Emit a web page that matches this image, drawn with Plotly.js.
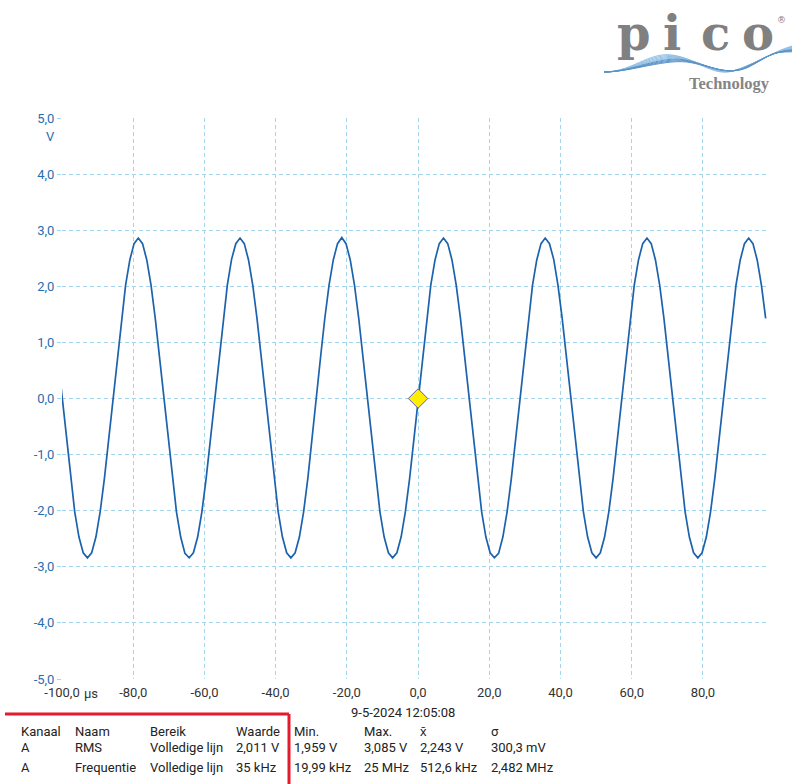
<!DOCTYPE html>
<html>
<head>
<meta charset="utf-8">
<script src="https://cdn.plot.ly/plotly-3.0.1.min.js"></script>
<style>html,body{margin:0;padding:0;background:#fff;}#chart{width:800px;height:784px;}</style>
</head>
<body>
<div id="chart"></div>
<script>
// ---- data ----
const timeStartUs = -102.38;     // first sample time, µs
const timeStepUs = 1.1905;       // sample spacing, µs
const voltsA = [
  1.43, 0.74, 0.00, -0.74, -1.43, -2.02, -2.47, -2.75, -2.84, -2.75, -2.47, -2.02, -1.43, -0.74, 0.00, 0.74, 1.43, 2.02, 2.47, 2.76, 2.86, 2.76, 2.47, 2.02,
  1.43, 0.74, 0.01, -0.74, -1.43, -2.02, -2.47, -2.76, -2.84, -2.75, -2.47, -2.02, -1.43, -0.73, 0.00, 0.74, 1.43, 2.02, 2.48, 2.76, 2.86, 2.76, 2.47, 2.02,
  1.43, 0.74, 0.00, -0.74, -1.43, -2.02, -2.47, -2.75, -2.84, -2.75, -2.47, -2.02, -1.42, -0.74, 0.00, 0.74, 1.43, 2.02, 2.47, 2.76, 2.87, 2.76, 2.47, 2.02,
  1.43, 0.73, 0.00, -0.74, -1.43, -2.02, -2.47, -2.75, -2.84, -2.75, -2.47, -2.02, -1.43, -0.74, 0.00, 0.74, 1.43, 2.02, 2.47, 2.76, 2.86, 2.76, 2.47, 2.02,
  1.43, 0.74, 0.00, -0.74, -1.43, -2.02, -2.47, -2.75, -2.84, -2.76, -2.47, -2.02, -1.43, -0.74, 0.00, 0.74, 1.43, 2.02, 2.47, 2.76, 2.86, 2.76, 2.48, 2.02,
  1.43, 0.74, 0.00, -0.74, -1.43, -2.02, -2.47, -2.75, -2.84, -2.75, -2.47, -2.02, -1.43, -0.74, 0.00, 0.74, 1.43, 2.02, 2.47, 2.76, 2.86, 2.76, 2.47, 2.02,
  1.43, 0.74, 0.00, -0.74, -1.43, -2.02, -2.47, -2.75, -2.84, -2.75, -2.47, -2.02, -1.43, -0.74, 0.00, 0.74, 1.43, 2.02, 2.47, 2.76, 2.86, 2.76, 2.47, 2.02,
  1.43
];
const triggerTime = [0];
const triggerLevel = [0];

const xTickVals = [-100, -80, -60, -40, -20, 0, 20, 40, 60, 80];
const xTickText = ["-100,0", "-80,0", "-60,0", "-40,0", "-20,0", "0,0", "20,0", "40,0", "60,0", "80,0"];
const yTickVals = [-5, -4, -3, -2, -1, 0, 1, 2, 3, 4, 5];
const yTickText = ["-5,0", "-4,0", "-3,0", "-2,0", "-1,0", "0,0", "1,0", "2,0", "3,0", "4,0", "5,0"];

const tableHeader = ["Kanaal", "Naam", "Bereik", "Waarde", "Min.", "Max.", "x\u0304", "σ"];
const rowRMS = ["A", "RMS", "Volledige lijn", "2,011 V", "1,959 V", "3,085 V", "2,243 V", "300,3 mV"];
const rowFreq = ["A", "Frequentie", "Volledige lijn", "35 kHz", "19,99 kHz", "25 MHz", "512,6 kHz", "2,482 MHz"];
const timestamp = "9-5-2024 12:05:08";

// ---- layout helpers (pixel placement) ----
const L = 62, R = 767, T = 118, B = 679;
const W = R - L, H = B - T;
function px(x) { return (x - L) / W; }
function py(y) { return (B - y) / H; }

const colX = [19, 73, 148, 234, 292, 362, 418, 489];
const rowY = [731, 747, 767];
const font = "Roboto, 'Liberation Sans', sans-serif";

const annotations = [];
function addText(text, x, y, opts) {
  annotations.push(Object.assign({
    text: text, xref: "paper", yref: "paper", x: 0, y: 0,
    xshift: x - L, yshift: B - y, xanchor: "left", yanchor: "middle",
    showarrow: false, font: {family: font, size: 13, color: "#222"}
  }, opts || {}));
}
[tableHeader, rowRMS, rowFreq].forEach(function (row, r) {
  row.forEach(function (t, c) { addText(t, colX[c], rowY[r]); });
});
addText(timestamp, 403, 712, {xanchor: "center"});
addText("µs", 82, 693, {font: {family: font, size: 13, color: "#333"}});
addText("V", 50, 136, {xanchor: "center", font: {family: font, size: 13, color: "#2b6cb0"}});

// logo
const serif = "DejaVu Serif";
[["p", 634], ["i", 672], ["c", 715], ["o", 758]].forEach(function (l) {
  addText(l[0], l[1], 33, {xanchor: "center", font: {family: serif, size: 48, color: "#808080", weight: "bold"}});
});
addText("®", 781, 20, {xanchor: "center", font: {family: serif, size: 9, color: "#7d7d7d"}});
addText("Technology", 729, 83, {xanchor: "center", font: {family: "Liberation Serif", size: 16.5, color: "#858585", weight: "bold"}});

const shapes = [];
// red bracket
shapes.push({type: "line", xref: "paper", yref: "paper", x0: px(5), x1: px(289), y0: py(714), y1: py(714), line: {color: "#e31b2c", width: 3}});
shapes.push({type: "line", xref: "paper", yref: "paper", x0: px(289), x1: px(289), y0: py(714), y1: py(786), line: {color: "#e31b2c", width: 3}});
// logo waves
for (let i = 0; i < 9; i++) {
  const o = i * 2.4;
  const p = "M " + px(604) + "," + py(72) +
    " C " + px(632) + "," + py(72) + " " + px(648 + o) + "," + py(52 + o * 0.3) + " " + px(672 + o) + "," + py(55 + o * 0.4) +
    " S " + px(712 + o) + "," + py(77) + " " + px(733 + o) + "," + py(71 - o * 0.3) +
    " S " + px(772) + "," + py(52) + " " + px(792) + "," + py(46 + o * 0.3);
  shapes.push({type: "path", xref: "paper", yref: "paper", path: p, line: {color: i < 5 ? "#8fc0e4" : "#5b93c8", width: 1}});
}

const traces = [
  {x0: timeStartUs, dx: timeStepUs, y: voltsA, type: "scatter", mode: "lines",
   line: {color: "#1c62ad", width: 1.7}, hoverinfo: "skip"},
  {x: triggerTime, y: triggerLevel, type: "scatter", mode: "markers",
   marker: {symbol: "diamond", size: 15, color: "#ffee00", line: {color: "#5b55d0", width: 1}}, hoverinfo: "skip"}
];

const layout = {
  width: 800, height: 784,
  margin: {l: L, r: 800 - R, t: T, b: 784 - B, pad: 0},
  paper_bgcolor: "#fff", plot_bgcolor: "#fff",
  showlegend: false,
  font: {family: font},
  xaxis: {
    range: [-100, 98], tickmode: "array", tickvals: xTickVals, ticktext: xTickText,
    showgrid: true, gridcolor: "#a3d5ec", griddash: "4px,3px", gridwidth: 1,
    zeroline: false, showline: false, ticks: "", ticklen: 0, ticklabelstandoff: 4,
    tickfont: {family: font, size: 13, color: "#333"}
  },
  yaxis: {
    range: [-5, 5], tickmode: "array", tickvals: yTickVals, ticktext: yTickText,
    showgrid: true, gridcolor: "#a3d5ec", griddash: "4px,3px", gridwidth: 1,
    zeroline: false, showline: false, ticks: "outside", ticklen: 4, tickcolor: "#a3d5ec",
    tickfont: {family: font, size: 13, color: "#2b6cb0"}
  },
  annotations: annotations,
  shapes: shapes
};

Plotly.newPlot("chart", traces, layout, {displayModeBar: false, staticPlot: true});
</script>
</body>
</html>
